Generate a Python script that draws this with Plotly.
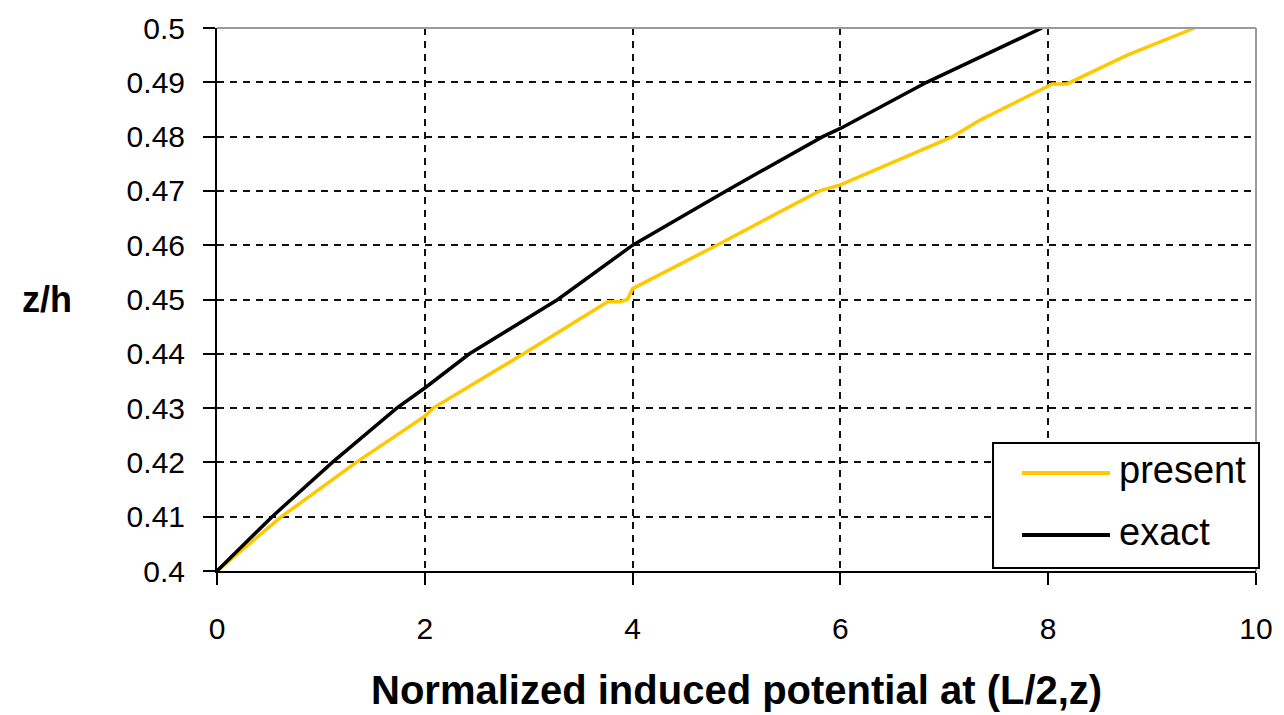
import plotly.graph_objects as go

# ---- data ----
exact_x = [0, 0.32, 0.53, 1.11, 1.73, 2.0, 2.43, 3.28, 4.0, 4.9, 5.83, 6.0, 6.83, 7.94]
exact_y = [0.400, 0.406, 0.410, 0.420, 0.430, 0.4337, 0.440, 0.450, 0.460, 0.470, 0.480, 0.4815, 0.490, 0.500]

present_x = [0, 0.62, 1.34, 2.0, 2.08, 2.95, 3.76, 3.88, 3.95, 4.0, 4.81, 5.80, 6.0, 7.08, 7.34, 8.0, 8.04, 8.18, 8.76, 9.41]
present_y = [0.400, 0.410, 0.420, 0.4285, 0.430, 0.440, 0.4496, 0.4496, 0.450, 0.452, 0.460, 0.470, 0.4711, 0.480, 0.483, 0.4892, 0.4897, 0.4897, 0.495, 0.500]

x_ticks = [0, 2, 4, 6, 8, 10]
y_ticks = [0.40, 0.41, 0.42, 0.43, 0.44, 0.45, 0.46, 0.47, 0.48, 0.49, 0.50]
y_ticktext = ["0.4", "0.41", "0.42", "0.43", "0.44", "0.45", "0.46", "0.47", "0.48", "0.49", "0.5"]

series_names = ["present", "exact"]
series_colors = ["#FFC800", "#000000"]

SANS = "Liberation Sans, Arial, sans-serif"

fig = go.Figure()
fig.add_trace(go.Scatter(x=present_x, y=present_y, mode="lines", name=series_names[0],
                         line=dict(color=series_colors[0], width=3.5), showlegend=False))
fig.add_trace(go.Scatter(x=exact_x, y=exact_y, mode="lines", name=series_names[1],
                         line=dict(color=series_colors[1], width=3.5), showlegend=False))

axis_common = dict(
    showgrid=True, gridcolor="#111111", gridwidth=1.5, griddash="7px,6px",
    showline=True, linecolor="#000000", linewidth=2,
    ticks="outside", ticklen=12, tickwidth=1.5, tickcolor="#000000",
    tickfont=dict(family=SANS, size=30, color="#000000"),
    zeroline=False, automargin=False,
)

fig.update_layout(
    width=1284, height=715,
    margin=dict(l=217, r=28, t=28, b=144, autoexpand=False),
    paper_bgcolor="white", plot_bgcolor="white",
    xaxis=dict(range=[0, 10], tickvals=x_ticks, ticklabelstandoff=18, **axis_common),
    yaxis=dict(range=[0.4, 0.5], tickvals=y_ticks, ticktext=y_ticktext, ticklabelstandoff=12, **axis_common),
    showlegend=False,
)

# gray top/right frame
fig.add_shape(type="line", xref="paper", yref="paper", x0=0, x1=1, y0=1, y1=1,
              line=dict(color="#9a9a9a", width=2), layer="above")
fig.add_shape(type="line", xref="paper", yref="paper", x0=1, x1=1, y0=0, y1=1,
              line=dict(color="#9a9a9a", width=2), layer="above")

# axis titles
fig.add_annotation(text="<b>Normalized induced potential at (L/2,z)</b>", xref="paper", yref="paper",
                   x=0.5, y=-0.219, showarrow=False, xanchor="center", yanchor="middle",
                   font=dict(family=SANS, size=40, color="#000000"))
fig.add_annotation(text="<b>z/h</b>", xref="paper", yref="paper",
                   x=-0.1636, y=0.5, showarrow=False, xanchor="center", yanchor="middle",
                   font=dict(family=SANS, size=36, color="#000000"))

# legend box (manual, to match the reference layout)
fig.add_shape(type="rect", xref="paper", yref="paper", x0=0.7469, x1=1.0029, y0=0.0055, y1=0.2357,
              line=dict(color="#000000", width=2), fillcolor="white", layer="above")
legend_y = [0.1805, 0.0663]
for name, color, ly in zip(series_names, series_colors, legend_y):
    fig.add_shape(type="line", xref="paper", yref="paper", x0=0.7748, x1=0.8595, y0=ly, y1=ly,
                  line=dict(color=color, width=4), layer="above")
    fig.add_annotation(text=name, xref="paper", yref="paper", x=0.8662, y=ly + 0.006,
                       showarrow=False, xanchor="left", yanchor="middle",
                       font=dict(family=SANS, size=38, color="#000000"))

fig.write_html("out.html", config={"displayModeBar": False},
               post_script="document.body.style.margin='0';")
